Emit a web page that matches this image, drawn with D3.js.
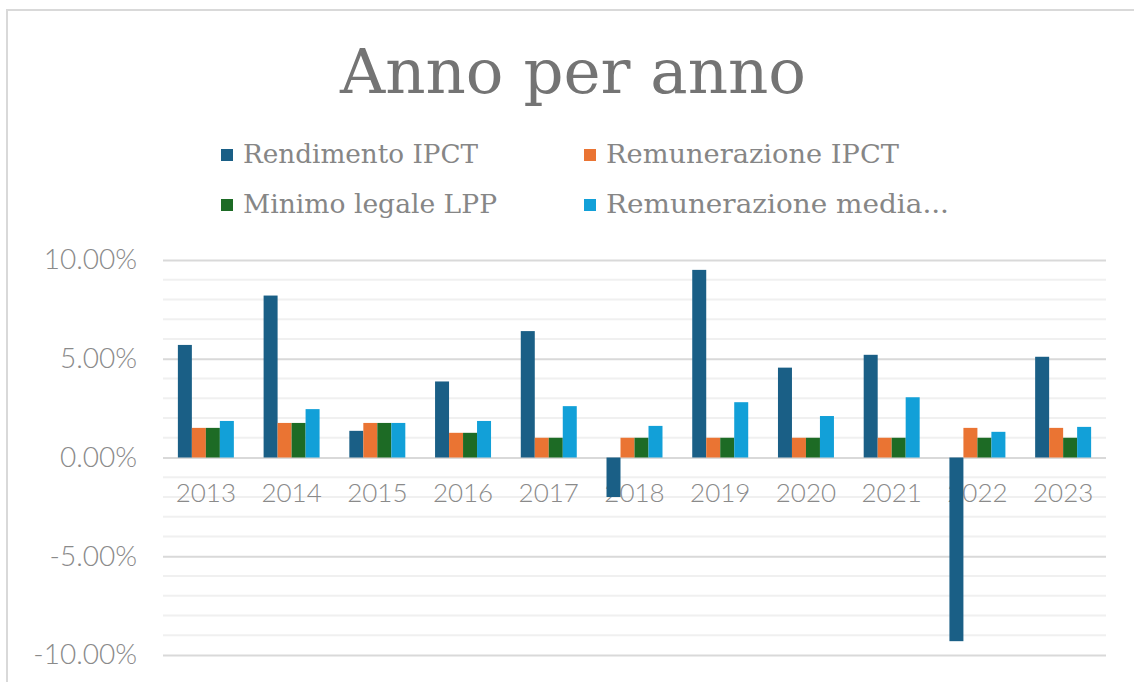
<!DOCTYPE html>
<html>
<head>
<meta charset="utf-8">
<script src="https://cdn.jsdelivr.net/npm/d3@7"></script>
<style>
  body { margin: 0; background: #fff; }
  #chart { width: 1134px; height: 682px; }
</style>
</head>
<body>
<div id="chart"></div>
<script>
// dati del grafico (valori in %)
const years = ["2013", "2014", "2015", "2016", "2017", "2018", "2019", "2020", "2021", "2022", "2023"];
const seriesNames = ["Rendimento IPCT", "Remunerazione IPCT", "Minimo legale LPP", "Remunerazione media..."];
const rendimentoIPCT = [5.7, 8.2, 1.35, 3.85, 6.4, -2.0, 9.5, 4.55, 5.2, -9.3, 5.1];
const remunerazioneIPCT = [1.5, 1.75, 1.75, 1.25, 1.0, 1.0, 1.0, 1.0, 1.0, 1.5, 1.5];
const minimoLPP = [1.5, 1.75, 1.75, 1.25, 1.0, 1.0, 1.0, 1.0, 1.0, 1.0, 1.0];
const remunerazioneMedia = [1.85, 2.45, 1.75, 1.85, 2.6, 1.6, 2.8, 2.1, 3.05, 1.3, 1.55];
const yTicks = [-10, -5, 0, 5, 10];
const colors = ["#1a5f86", "#ea7433", "#1d6b25", "#12a0d8"];

const allSeries = [rendimentoIPCT, remunerazioneIPCT, minimoLPP, remunerazioneMedia];

const width = 1134, height = 682;
const svg = d3.select("#chart").append("svg")
    .attr("width", width)
    .attr("height", height);

// bordo dell'area grafico
svg.append("rect")
    .attr("x", 7).attr("y", 10)
    .attr("width", 1200).attr("height", 700)
    .attr("fill", "none")
    .attr("stroke", "#d9d9d9")
    .attr("stroke-width", 2);

// titolo
svg.append("text")
    .attr("x", 340).attr("y", 93)
    .attr("textLength", 466)
    .attr("lengthAdjust", "spacingAndGlyphs")
    .style("font-family", "'DejaVu Serif', serif")
    .style("font-size", "62px")
    .style("fill", "#747474")
    .text("Anno per anno");

// legenda
const legendPos = [[221, 163], [584, 163], [221, 213], [584, 213]];
const legendWidths = [235, 293, 254, 343];
seriesNames.forEach((name, i) => {
  const g = svg.append("g");
  g.append("rect")
      .attr("x", legendPos[i][0]).attr("y", legendPos[i][1] - 14)
      .attr("width", 12).attr("height", 12)
      .attr("fill", colors[i]);
  g.append("text")
      .attr("x", legendPos[i][0] + 22).attr("y", legendPos[i][1])
      .attr("textLength", legendWidths[i])
      .attr("lengthAdjust", "spacingAndGlyphs")
      .style("font-family", "'DejaVu Serif', serif")
      .style("font-size", "26px")
      .style("fill", "#868686")
      .text(name);
});

// scale
const x0 = d3.scaleBand().domain(years).range([163, 1106]).padding(0);
const groupRatio = 0.653;
const bw = x0.bandwidth();
const x1 = d3.scaleBand().domain(d3.range(4))
    .range([(bw - bw * groupRatio) / 2, (bw + bw * groupRatio) / 2]).padding(0);
const y = d3.scaleLinear().domain([-10, 10]).range([655, 260]);

// griglia secondaria
svg.append("g").selectAll("line")
    .data(d3.range(-10, 11).filter(v => v % 5 !== 0))
    .join("line")
    .attr("x1", 163).attr("x2", 1106)
    .attr("y1", d => y(d)).attr("y2", d => y(d))
    .attr("stroke", "#f0f0f0").attr("stroke-width", 2);

// asse y con griglia principale
const yAxis = svg.append("g")
    .attr("transform", "translate(163,0)")
    .call(d3.axisLeft(y).tickValues(yTicks).tickSize(-943).tickPadding(26)
        .tickFormat(d => d.toFixed(2) + "%"));
yAxis.select(".domain").remove();
yAxis.selectAll(".tick line").attr("stroke", "#d9d9d9").attr("stroke-width", 2);
yAxis.selectAll(".tick text")
    .style("font-family", "Lato, 'Open Sans', sans-serif")
    .style("font-weight", 300)
    .style("font-size", "28px")
    .style("fill", "#8a8a8a");

// etichette anni (sotto lo zero, sotto le barre)
svg.append("g").selectAll("text")
    .data(years)
    .join("text")
    .attr("x", d => x0(d) + bw / 2)
    .attr("y", 502)
    .attr("text-anchor", "middle")
    .style("font-family", "Lato, 'Open Sans', sans-serif")
    .style("font-weight", 300)
    .style("font-size", "26px")
    .style("fill", "#8a8a8a")
    .text(d => d);

// barre
const groups = svg.append("g").selectAll("g")
    .data(years)
    .join("g")
    .attr("transform", d => `translate(${x0(d)},0)`);

groups.selectAll("rect")
    .data((d, i) => allSeries.map((s, k) => ({ k: k, v: s[i] })))
    .join("rect")
    .attr("x", d => x1(d.k))
    .attr("width", x1.bandwidth())
    .attr("y", d => y(Math.max(0, d.v)))
    .attr("height", d => Math.abs(y(d.v) - y(0)))
    .attr("fill", d => colors[d.k]);
</script>
</body>
</html>
